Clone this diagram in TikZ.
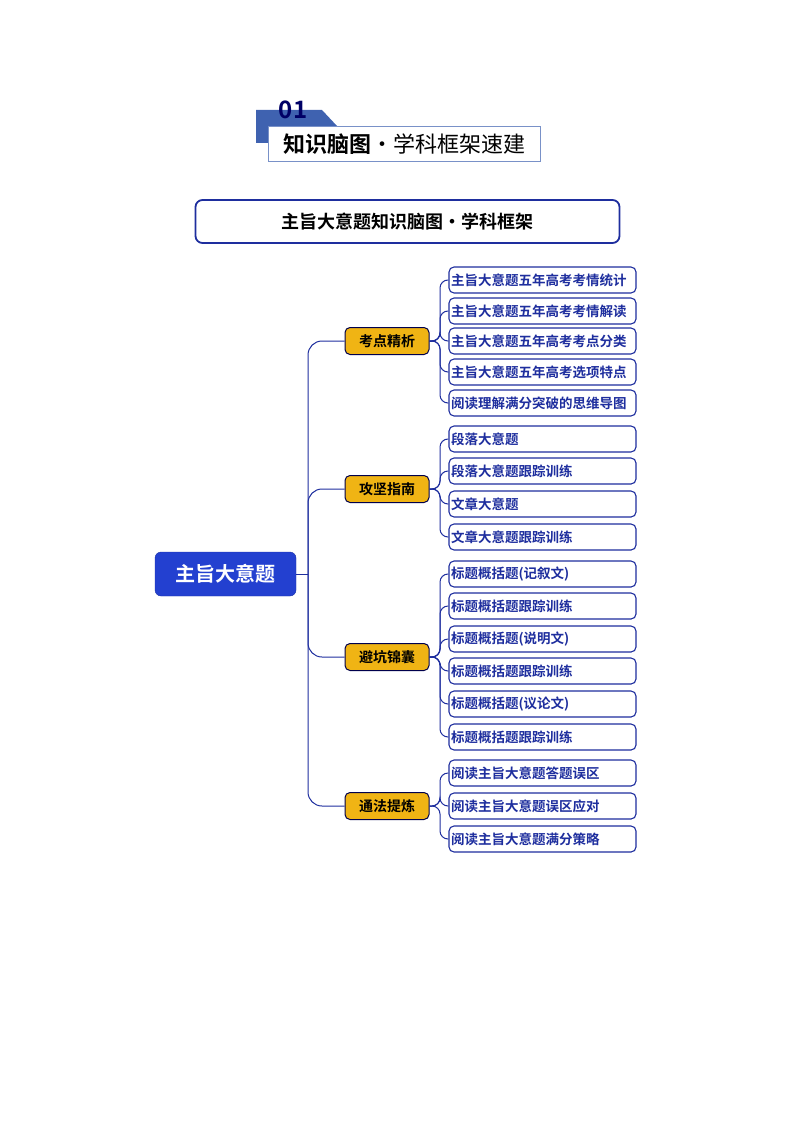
\documentclass[tikz,border=0pt]{standalone}
\usepackage{fontspec}
\newfontfamily\cjk{Noto Sans CJK SC}
\newfontfamily\cjkb{Noto Sans CJK SC Bold}
\begin{document}
\begin{tikzpicture}[x=1pt,y=-1pt,
  leaf/.style={draw=lblue,line width=1.1pt,rounded corners=5pt,fill=white,minimum width=187pt,minimum height=26pt,inner sep=2pt,text width=183pt,align=left,font=\cjkb\fontsize{13.5}{13.5}\selectfont,text=lblue},
  br/.style={draw=black!70!blue,line width=1pt,rounded corners=5pt,fill=gold,minimum width=84pt,minimum height=27pt,font=\cjkb\fontsize{14}{14}\selectfont},
  con/.style={draw=lblue,line width=1pt,rounded corners=8pt}]
\definecolor{lblue}{HTML}{1E2E9E}
\definecolor{gold}{HTML}{F0B414}
\definecolor{rootb}{HTML}{2340D0}
\definecolor{tab}{HTML}{3F62B0}
\useasboundingbox (0,0) rectangle (794,1123);
% header
\fill[tab] (256,110) -- (322,110) -- (337,126) -- (268,126) -- (268,143) -- (256,143) -- cycle;
\node[font=\cjkb\fontsize{24}{24}\selectfont,text=black!60!blue] (num) at (293,110) {01};
\node[draw=tab!70,line width=0.6pt,fill=white,minimum width=272pt,minimum height=35pt,anchor=north west,inner sep=0pt] (hdr) at (268,126) {};
\node[font=\fontsize{22}{22}\selectfont] (hdrt) at (hdr.center) {{\cjkb 知识脑图}{\cjk ·学科框架速建}};
\node[draw=lblue,line width=1.8pt,rounded corners=7pt,minimum width=424pt,minimum height=43pt,font=\cjkb\fontsize{18}{18}\selectfont] (title) at (407.5,221.5) {主旨大意题知识脑图·学科框架};
% root
\node[fill=rootb,draw=rootb!80!black,rounded corners=6pt,minimum width=141pt,minimum height=44pt,text=white,font=\cjkb\fontsize{20}{20}\selectfont] (root) at (225.5,574) {主旨大意题};
\coordinate (rj) at (308,574);
\draw[con] (root.east) -- (rj);
\foreach \n/\y/\t in {b1/341/考点精析,b2/489/攻坚指南,b3/657/避坑锦囊,b4/806/通法提炼}{
  \node[br] (\n) at (387,\y) {\t};
  \draw[con,rounded corners=14pt] (rj) -- (rj |- \n.west) -- (\n.west);
}
\foreach \n/\y/\t/\b in {
l1/280/主旨大意题五年高考考情统计/b1, l2/311/主旨大意题五年高考考情解读/b1, l3/341/主旨大意题五年高考考点分类/b1, l4/372/主旨大意题五年高考选项特点/b1, l5/403/阅读理解满分突破的思维导图/b1,
l6/439/段落大意题/b2, l7/471/段落大意题跟踪训练/b2, l8/504/文章大意题/b2, l9/537/文章大意题跟踪训练/b2,
l10/574/标题概括题(记叙文)/b3, l11/606/标题概括题跟踪训练/b3, l12/639/标题概括题(说明文)/b3, l13/671/标题概括题跟踪训练/b3, l14/704/标题概括题(议论文)/b3, l15/737/标题概括题跟踪训练/b3,
l16/773/阅读主旨大意题答题误区/b4, l17/806/阅读主旨大意题误区应对/b4, l18/839/阅读主旨大意题满分策略/b4}{
  \node[leaf] (\n) at (542.5,\y) {\t};
  \coordinate (j\n) at (440,0 |- \b.east);
  \draw[con] (\b.east) -- (j\n) -- (j\n |- \n.west) -- (\n.west);
}
\end{tikzpicture}
\end{document}
